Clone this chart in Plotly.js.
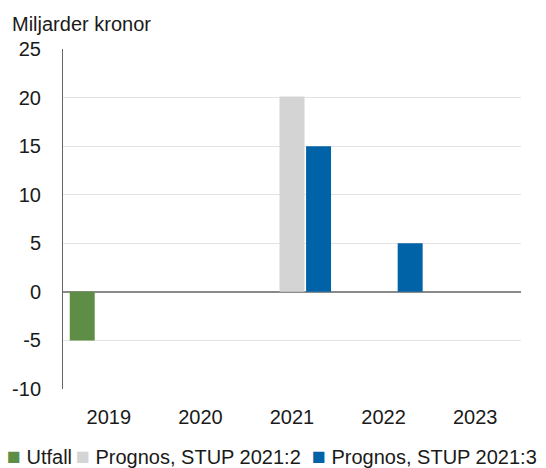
<!DOCTYPE html>
<html>
<head>
<meta charset="utf-8">
<script src="https://cdn.plot.ly/plotly-3.0.1.min.js"></script>
<style>html,body{margin:0;padding:0;background:#fff;}#chart{width:546px;height:468px;}</style>
</head>
<body>
<div id="chart"></div>
<script>
var years = ['2019', '2020', '2021', '2022', '2023'];
var utfall = [-5, null, null, null, null];
var prognos2 = [null, null, 20.1, null, null];
var prognos3 = [null, null, 15, 5, null];
var seriesNames = ['Utfall', 'Prognos, STUP 2021:2', 'Prognos, STUP 2021:3'];
var colors = ['#5e8e46', '#d4d4d4', '#0062a7'];
var yTicks = [-10, -5, 0, 5, 10, 15, 20, 25];
var yTickLabels = ['-10', '-5', '0', '5', '10', '15', '20', '25'];

var FONT = 'Liberation Sans, Arial, sans-serif';
var traces = [utfall, prognos2, prognos3].map(function (vals, i) {
  return {type: 'bar', x: years, y: vals, name: seriesNames[i],
          marker: {color: colors[i]}, hoverinfo: 'x+y'};
});

var L = 63, R = 521, W = 546;
function px(x) { return (x - L) / (R - L); }
var legendX = [5, 74, 310];
var annotations = seriesNames.map(function (n, i) {
  return {xref: 'paper', yref: 'paper', x: px(legendX[i]), y: -0.196,
          xanchor: 'left', yanchor: 'middle', showarrow: false,
          text: '<span style="color:' + colors[i] + ';font-size:23px">■</span> ' + n,
          font: {family: FONT, size: 20, color: '#1a1a1a'}};
});

var layout = {
  width: 546, height: 468,
  margin: {l: 63, r: 25, t: 49, b: 79},
  paper_bgcolor: '#fff', plot_bgcolor: '#fff',
  showlegend: false,
  barmode: 'group', bargap: 0.13, bargroupgap: 0.06,
  font: {family: FONT, size: 20, color: '#1a1a1a'},
  title: {text: 'Miljarder kronor', x: 12 / W, xanchor: 'left', xref: 'container',
          y: 1 - 24 / 468, yanchor: 'middle', yref: 'container',
          font: {family: FONT, size: 20, color: '#1a1a1a'}},
  xaxis: {type: 'category', showgrid: false, showline: false, zeroline: false,
          ticks: '', ticklabelstandoff: 14, tickfont: {size: 20}},
  yaxis: {range: [-10, 25], tickvals: yTicks, ticktext: yTickLabels,
          showgrid: true, gridcolor: '#e3e3e3', gridwidth: 1,
          zeroline: true, zerolinecolor: '#8a8a8a', zerolinewidth: 1.5,
          showline: true, linecolor: '#666', linewidth: 1, ticks: '',
          ticklabelstandoff: 17, tickfont: {size: 20}},
  annotations: annotations
};

Plotly.newPlot('chart', traces, layout, {displayModeBar: false, staticPlot: true});
</script>
</body>
</html>
